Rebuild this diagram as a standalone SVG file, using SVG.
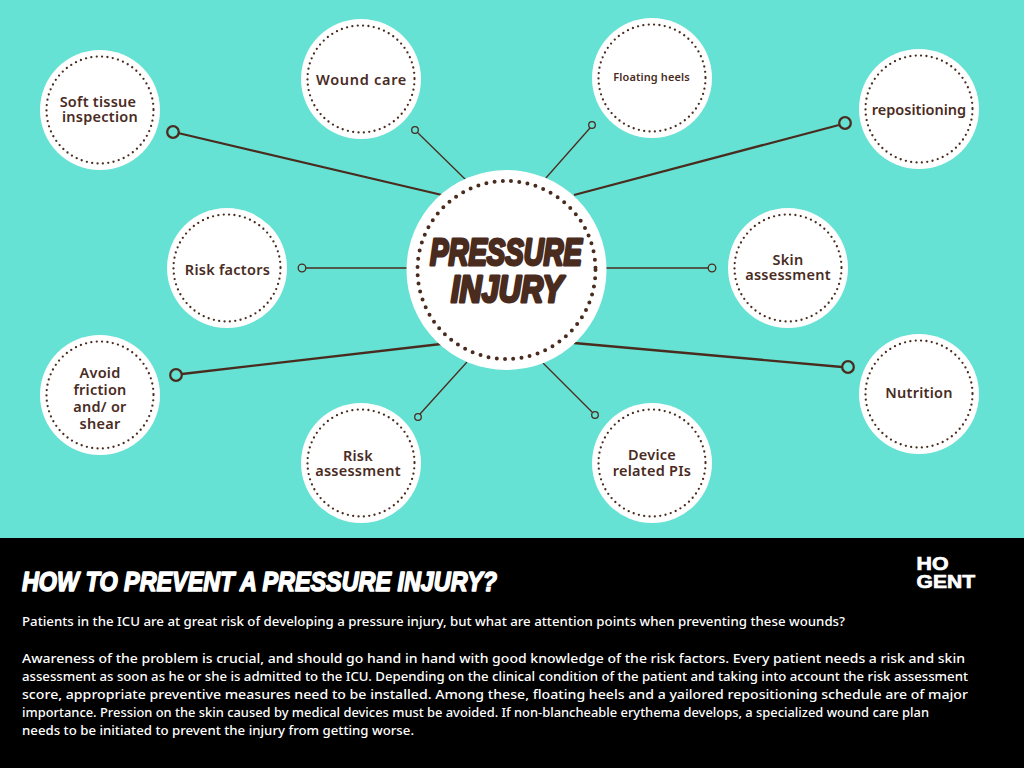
<svg xmlns="http://www.w3.org/2000/svg" width="1024" height="768" viewBox="0 0 1024 768">
<style>
.disc{fill:#fff}
.dots{fill:none;stroke:#4a2c1f;stroke-width:2.3;stroke-linecap:round;stroke-dasharray:0 5.4}
.big{fill:none;stroke:#4a2c1f;stroke-width:4;stroke-linecap:round;stroke-dasharray:0 8.3}
.lab{font-family:"Noto Sans","Open Sans",sans-serif;font-weight:600;font-size:14.5px;fill:#4a2c1f;text-anchor:middle;letter-spacing:.25px}
.thick{stroke:#4a2c1f;stroke-width:2.3;fill:none}
.thin{stroke:#4a2c1f;stroke-width:1.3;fill:none}
.display{font-family:"Liberation Sans",sans-serif;font-weight:700;font-style:italic;paint-order:stroke;stroke-linejoin:round}
.body{font-family:"Noto Sans","Open Sans",sans-serif;font-weight:500;font-size:12.500px;fill:#fff}
</style>
<rect width="1024" height="768" fill="#65e2d4"/>
<rect y="538" width="1024" height="230" fill="#000"/>
<g id="connectors">
<line class="thick" x1="178" y1="133" x2="442" y2="195"/><circle class="thick" cx="173" cy="132" r="5.8"/>
<line class="thin" x1="418" y1="133" x2="466" y2="180"/><circle class="thin" cx="415" cy="130" r="3.3"/>
<line class="thin" x1="590" y1="128" x2="545" y2="179"/><circle class="thin" cx="592" cy="125" r="3.3"/>
<line class="thick" x1="839" y1="125" x2="574" y2="195"/><circle class="thick" cx="845" cy="123" r="5.8"/>
<line class="thin" x1="306" y1="268" x2="408" y2="268"/><circle class="thin" cx="302" cy="268" r="3.8"/>
<line class="thin" x1="606" y1="268" x2="708" y2="268"/><circle class="thin" cx="712" cy="268" r="3.8"/>
<line class="thick" x1="182" y1="374" x2="441" y2="344"/><circle class="thick" cx="176" cy="375" r="5.8"/>
<line class="thin" x1="420" y1="414" x2="467" y2="362"/><circle class="thin" cx="418" cy="417" r="3.3"/>
<line class="thin" x1="592" y1="412" x2="543" y2="363"/><circle class="thin" cx="595" cy="415" r="3.3"/>
<line class="thick" x1="842" y1="367" x2="574" y2="343"/><circle class="thick" cx="848" cy="367" r="5.8"/>
</g>
<g id="center"><circle class="disc" cx="506.5" cy="270" r="100"/><circle class="big" cx="506.5" cy="270" r="89"/>
<text class="display" x="506" y="265" text-anchor="middle" font-size="37" fill="#4a2c1f" stroke="#4a2c1f" stroke-width="3" textLength="152" lengthAdjust="spacingAndGlyphs">PRESSURE</text>
<text class="display" x="507" y="302" text-anchor="middle" font-size="37" fill="#4a2c1f" stroke="#4a2c1f" stroke-width="3" textLength="112" lengthAdjust="spacingAndGlyphs">INJURY</text></g>
<g id="soft-tissue"><circle class="disc" cx="100" cy="110" r="60"/><circle class="dots" cx="100" cy="110" r="53.500"/><text class="lab" x="98" y="107">Soft tissue</text><text class="lab" x="100" y="122">inspection</text></g>
<g id="wound-care"><circle class="disc" cx="361" cy="79" r="60"/><circle class="dots" cx="361" cy="79" r="53.500"/><text class="lab" x="361.500" y="85" style="letter-spacing:.7px">Wound care</text></g>
<g id="floating-heels"><circle class="disc" cx="652" cy="78" r="60"/><circle class="dots" cx="652" cy="78" r="53.500"/><text class="lab" x="651.500" y="81" style="font-size:11px;letter-spacing:.1px">Floating heels</text></g>
<g id="repositioning"><circle class="disc" cx="919" cy="109" r="60"/><circle class="dots" cx="919" cy="109" r="53.500"/><text class="lab" x="919" y="115" style="letter-spacing:0">repositioning</text></g>
<g id="risk-factors"><circle class="disc" cx="227" cy="268" r="60"/><circle class="dots" cx="227" cy="268" r="53.500"/><text class="lab" x="227.500" y="275">Risk factors</text></g>
<g id="skin-assessment"><circle class="disc" cx="788" cy="268" r="60"/><circle class="dots" cx="788" cy="268" r="53.500"/><text class="lab" x="788" y="265">Skin</text><text class="lab" x="788" y="280">assessment</text></g>
<g id="avoid-friction"><circle class="disc" cx="100" cy="395" r="60"/><circle class="dots" cx="100" cy="395" r="53.500"/><text class="lab" x="100" y="378">Avoid</text><text class="lab" x="100" y="395">friction</text><text class="lab" x="100" y="412">and/ or</text><text class="lab" x="100" y="429">shear</text></g>
<g id="risk-assessment"><circle class="disc" cx="361" cy="463" r="60"/><circle class="dots" cx="361" cy="463" r="53.500"/><text class="lab" x="358" y="461">Risk</text><text class="lab" x="358" y="476">assessment</text></g>
<g id="device-pis"><circle class="disc" cx="652" cy="463" r="60"/><circle class="dots" cx="652" cy="463" r="53.500"/><text class="lab" x="652" y="460">Device</text><text class="lab" x="652" y="476">related PIs</text></g>
<g id="nutrition"><circle class="disc" cx="919" cy="394" r="60"/><circle class="dots" cx="919" cy="394" r="53.500"/><text class="lab" x="919" y="398">Nutrition</text></g>
<text class="display" x="22" y="591" font-size="28" fill="#fff" stroke="#fff" stroke-width="1.6" textLength="475" lengthAdjust="spacingAndGlyphs">HOW TO PREVENT A PRESSURE INJURY?</text>
<g id="logo" font-family="Liberation Sans,sans-serif" font-weight="700" font-size="19" fill="#fff" stroke="#fff" stroke-width=".7"><text x="916.500" y="570" textLength="32" lengthAdjust="spacingAndGlyphs">HO</text><text x="916.500" y="588" textLength="58.500" lengthAdjust="spacingAndGlyphs">GENT</text></g>
<g class="body">
<text x="22" y="626" textLength="823" lengthAdjust="spacingAndGlyphs">Patients in the ICU are at great risk of developing a pressure injury, but what are attention points when preventing these wounds?</text>
<text x="22" y="663" textLength="943" lengthAdjust="spacingAndGlyphs">Awareness of the problem is crucial, and should go hand in hand with good knowledge of the risk factors. Every patient needs a risk and skin</text>
<text x="22" y="681" textLength="946" lengthAdjust="spacingAndGlyphs">assessment as soon as he or she is admitted to the ICU. Depending on the clinical condition of the patient and taking into account the risk assessment</text>
<text x="22" y="699" textLength="946" lengthAdjust="spacingAndGlyphs">score, appropriate preventive measures need to be installed. Among these, floating heels and a yailored repositioning schedule are of major</text>
<text x="22" y="717" textLength="907" lengthAdjust="spacingAndGlyphs">importance. Pression on the skin caused by medical devices must be avoided. If non-blancheable erythema develops, a specialized wound care plan</text>
<text x="22" y="735" textLength="392" lengthAdjust="spacingAndGlyphs">needs to be initiated to prevent the injury from getting worse.</text>
</g>
</svg>
